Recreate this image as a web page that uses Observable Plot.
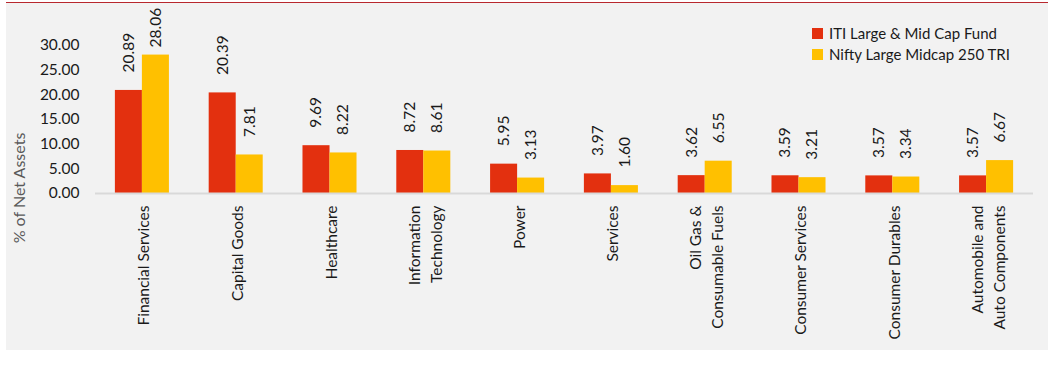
<!DOCTYPE html>
<html><head><meta charset="utf-8">
<script src="https://cdn.jsdelivr.net/npm/d3@7"></script>
<script src="https://cdn.jsdelivr.net/npm/@observablehq/plot@0.6"></script>
<style>
html,body{margin:0;padding:0;background:#fff;}
#wrap{position:absolute;left:6px;top:2px;width:1042px;height:347px;background:#f2f2f2;border-top:1px solid #b8282e;font-family:Lato,sans-serif;}
#legend{position:absolute;left:806px;top:20px;font-size:15px;color:#1a1a1a;line-height:21px;}
#legend .row{display:flex;align-items:center;}
#legend .sw{width:11px;height:11px;margin-right:6px;}
#ytitle{position:absolute;left:12px;top:185px;font-size:16px;color:#595959;white-space:nowrap;transform:translate(-50%,-50%) rotate(-90deg);}
svg{position:absolute;left:0;top:0;}
</style>
</head><body>
<div id="wrap"><div id="chart"></div><div id="ytitle">% of Net Assets</div><div id="legend"></div></div>
<script>
const categories = ["Financial Services","Capital Goods","Healthcare","Information\nTechnology","Power","Services","Oil Gas &\nConsumable Fuels","Consumer Services","Consumer Durables","Automobile and\nAuto Components"];
const seriesNames = ["ITI Large & Mid Cap Fund","Nifty Large Midcap 250 TRI"];
const fundValues = [20.89,20.39,9.69,8.72,5.95,3.97,3.62,3.59,3.57,3.57];
const indexValues = [28.06,7.81,8.22,8.61,3.13,1.60,6.55,3.21,3.34,6.67];
const yTicks = [0,5,10,15,20,25,30];
const colors = ["#e3300f","#ffc000"];

const fundData = categories.map((c,i)=>({cat:c, series:seriesNames[0], value:fundValues[i]}));
const indexData = categories.map((c,i)=>({cat:c, series:seriesNames[1], value:indexValues[i]}));

const pxPerUnit = 148/30;
const gapUnits = 18/pxPerUnit;
const labelY = d => Math.min(d.value + gapUnits, 29.6);
const half = 27;

const chart = Plot.plot({
  width:1042, height:347,
  marginTop:42, marginBottom:157, marginLeft:89, marginRight:15,
  style:{background:"transparent", fontFamily:"Lato, sans-serif", fontSize:"15px", color:"#1a1a1a"},
  x:{domain:categories, paddingInner:0.424, paddingOuter:0.212, round:false, label:null},
  y:{domain:[0,30], ticks:yTicks, label:null},
  marks:[
    Plot.barY(fundData,{x:"cat", y:"value", fill:colors[0], insetRight:half}),
    Plot.barY(indexData,{x:"cat", y:"value", fill:colors[1], insetLeft:half}),
    Plot.text(fundData,{x:"cat", y:labelY, dx:-half/2, text:d=>d.value.toFixed(2), rotate:-90, textAnchor:"start", lineAnchor:"middle", fontSize:15.5, fill:"#1a1a1a"}),
    Plot.text(indexData,{x:"cat", y:labelY, dx:half/2, text:d=>d.value.toFixed(2), rotate:-90, textAnchor:"start", lineAnchor:"middle", fontSize:15.5, fill:"#1a1a1a"}),
    Plot.ruleY([0],{stroke:"#d9d9d9", strokeWidth:2}),
    Plot.axisY({ticks:yTicks, tickFormat:d=>d.toFixed(2), tickSize:0, tickPadding:16, fontSize:15.5, label:null}),
    Plot.axisX({anchor:"bottom", tickRotate:-90, tickSize:0, tickPadding:12, fontSize:15.5, lineHeight:1.42, label:null})
  ]
});
document.getElementById("chart").appendChild(chart);

const legend = document.getElementById("legend");
seriesNames.forEach((s,i)=>{
  const row = document.createElement("div"); row.className="row";
  const sw = document.createElement("div"); sw.className="sw"; sw.style.background=colors[i];
  const t = document.createElement("span"); t.textContent=s;
  row.appendChild(sw); row.appendChild(t); legend.appendChild(row);
});
</script>
</body></html>
